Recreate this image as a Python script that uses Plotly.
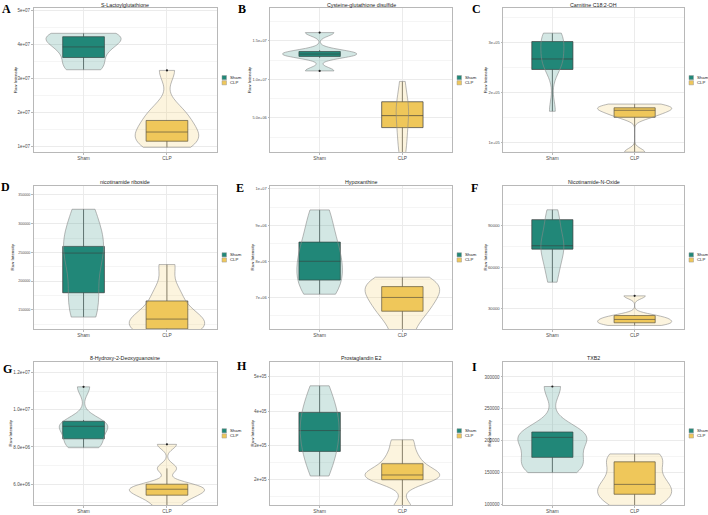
import numpy as np
import plotly.graph_objects as go

GROUPS = ["Sham", "CLP"]
TITLES = ["S-Lactoylglutathione", "Cysteine-glutathione disulfide", "Carnitine C18:2-OH",
          "nicotinamide riboside", "Hypoxanthine", "Nicotinamide-N-Oxide",
          "8-Hydroxy-2-Deoxyguanosine", "Prostaglandin E2", "TXB2"]
LETTERS = ["A", "B", "C", "D", "E", "F", "G", "H", "I"]

# ---- samples (raw intensity) ----
A_SHAM = [3.25e7, 3.40e7, 3.70e7, 3.92e7, 4.10e7, 4.20e7, 4.28e7, 4.32e7]
A_CLP = [0.97e7, 1.10e7, 1.25e7, 1.40e7, 1.60e7, 1.85e7, 2.10e7, 3.23e7]
B_SHAM = [1.11e7, 1.30e7, 1.33e7, 1.36e7, 1.607e7]
B_CLP = [0.3e6, 2.2e6, 3.75e6, 5.3e6, 6.5e6, 7.1e6, 9.74e6]
C_SHAM = [1.62e5, 2.46e5, 2.60e5, 2.70e5, 2.85e5, 3.02e5, 3.12e5, 3.19e5]
C_CLP = [0.80e5, 1.50e5, 1.58e5, 1.64e5, 1.68e5, 1.72e5, 1.765e5]
D_SHAM = [1.375e5, 1.60e5, 1.80e5, 2.45e5, 2.50e5, 2.60e5, 2.95e5, 3.25e5]
D_CLP = [1.05e5, 1.15e5, 1.22e5, 1.30e5, 1.34e5, 1.42e5, 1.65e5, 1.85e5, 2.288e5]
E_SHAM = [7.09e6, 7.30e6, 7.48e6, 7.80e6, 8.00e6, 8.30e6, 8.53e6, 9.00e6, 9.42e6]
E_CLP = [5.90e6, 6.40e6, 6.62e6, 6.85e6, 7.00e6, 7.20e6, 7.30e6, 7.45e6, 7.56e6]
F_SHAM = [4.92e4, 5.9e4, 6.6e4, 7.29e4, 7.53e4, 7.8e4, 8.6e4, 9.4e4, 1.011e5]
F_CLP = [1.82e4, 1.95e4, 2.05e4, 2.25e4, 2.35e4, 2.55e4, 3.94e4]
G_SHAM = [7.96e6, 8.15e6, 8.44e6, 8.90e6, 9.11e6, 9.25e6, 9.38e6, 11.23e6]
G_CLP = [4.80e6, 5.20e6, 5.41e6, 5.60e6, 5.73e6, 5.85e6, 6.00e6, 6.85e6, 8.14e6]
H_SHAM = [2.10e5, 2.60e5, 2.82e5, 3.20e5, 3.43e5, 3.70e5, 3.96e5, 4.30e5, 4.74e5]
H_CLP = [1.15e5, 1.99e5, 2.05e5, 2.13e5, 2.20e5, 2.46e5, 2.75e5, 3.16e5]
I_SHAM = [1.495e5, 1.56e5, 1.68e5, 1.735e5, 2.00e5, 2.05e5, 2.10e5, 2.134e5, 2.85e5]
I_CLP = [0.98e5, 1.08e5, 1.155e5, 1.25e5, 1.31e5, 1.45e5, 1.665e5, 1.75e5, 1.789e5]

# ---- box statistics: [lower whisker, q1, median, q3, upper whisker] ----
A_SHAM_BOX = [3.25e7, 3.61e7, 3.92e7, 4.22e7, 4.32e7]
A_CLP_BOX = [0.97e7, 1.15e7, 1.42e7, 1.76e7, 1.76e7]
B_SHAM_BOX = [1.28e7, 1.298e7, 1.329e7, 1.362e7, 1.38e7]
B_CLP_BOX = [0.3e6, 3.75e6, 5.3e6, 7.1e6, 9.74e6]
C_SHAM_BOX = [1.62e5, 2.46e5, 2.67e5, 3.02e5, 3.19e5]
C_CLP_BOX = [0.80e5, 1.50e5, 1.64e5, 1.69e5, 1.765e5]
D_SHAM_BOX = [1.375e5, 1.798e5, 2.488e5, 2.604e5, 3.252e5]
D_CLP_BOX = [1.05e5, 1.17e5, 1.34e5, 1.655e5, 2.288e5]
E_SHAM_BOX = [7.09e6, 7.48e6, 8.00e6, 8.53e6, 9.42e6]
E_CLP_BOX = [5.90e6, 6.62e6, 7.00e6, 7.30e6, 7.56e6]
F_SHAM_BOX = [4.92e4, 7.29e4, 7.53e4, 9.4e4, 1.011e5]
F_CLP_BOX = [1.82e4, 2.01e4, 2.25e4, 2.53e4, 2.55e4]
G_SHAM_BOX = [7.96e6, 8.44e6, 9.11e6, 9.38e6, 9.45e6]
G_CLP_BOX = [4.80e6, 5.41e6, 5.73e6, 6.00e6, 6.85e6]
H_SHAM_BOX = [2.10e5, 2.82e5, 3.43e5, 3.96e5, 4.74e5]
H_CLP_BOX = [1.15e5, 1.99e5, 2.13e5, 2.46e5, 3.16e5]
I_SHAM_BOX = [1.495e5, 1.735e5, 2.05e5, 2.134e5, 2.134e5]
I_CLP_BOX = [0.98e5, 1.155e5, 1.31e5, 1.665e5, 1.789e5]

# ---- outliers ----
A_CLP_OUT = [3.23e7]
B_SHAM_OUT = [1.11e7, 1.607e7]
F_CLP_OUT = [3.94e4]
G_SHAM_OUT = [11.23e6]
G_CLP_OUT = [8.14e6]
I_SHAM_OUT = [2.85e5]

# ---- ticks ----
A_TICKS = [1e7, 2e7, 3e7, 4e7, 5e7]
A_TICKTEXT = ["1e+07", "2e+07", "3e+07", "4e+07", "5e+07"]
B_TICKS = [5e6, 1e7, 1.5e7]
B_TICKTEXT = ["5.0e+06", "1.0e+07", "1.5e+07"]
C_TICKS = [1e5, 2e5, 3e5]
C_TICKTEXT = ["1e+05", "2e+05", "3e+05"]
D_TICKS = [150000, 200000, 250000, 300000, 350000]
D_TICKTEXT = ["150000", "200000", "250000", "300000", "350000"]
E_TICKS = [7e6, 8e6, 9e6, 1e7]
E_TICKTEXT = ["7e+06", "8e+06", "9e+06", "1e+07"]
F_TICKS = [30000, 60000, 90000]
F_TICKTEXT = ["30000", "60000", "90000"]
G_TICKS = [6e6, 8e6, 1e7, 1.2e7]
G_TICKTEXT = ["6.0e+06", "8.0e+06", "1.0e+07", "1.2e+07"]
H_TICKS = [2e5, 3e5, 4e5, 5e5]
H_TICKTEXT = ["2e+05", "3e+05", "4e+05", "5e+05"]
I_TICKS = [100000, 150000, 200000, 250000, 300000]
I_TICKTEXT = ["100000", "150000", "200000", "250000", "300000"]

SAMPLES = [(A_SHAM, A_CLP), (B_SHAM, B_CLP), (C_SHAM, C_CLP), (D_SHAM, D_CLP), (E_SHAM, E_CLP),
           (F_SHAM, F_CLP), (G_SHAM, G_CLP), (H_SHAM, H_CLP), (I_SHAM, I_CLP)]
BOXES = [(A_SHAM_BOX, A_CLP_BOX), (B_SHAM_BOX, B_CLP_BOX), (C_SHAM_BOX, C_CLP_BOX),
         (D_SHAM_BOX, D_CLP_BOX), (E_SHAM_BOX, E_CLP_BOX), (F_SHAM_BOX, F_CLP_BOX),
         (G_SHAM_BOX, G_CLP_BOX), (H_SHAM_BOX, H_CLP_BOX), (I_SHAM_BOX, I_CLP_BOX)]
OUTLIERS = [([], A_CLP_OUT), (B_SHAM_OUT, []), ([], []), ([], []), ([], []),
            ([], F_CLP_OUT), (G_SHAM_OUT, G_CLP_OUT), ([], []), (I_SHAM_OUT, [])]
TICKS = [(A_TICKS, A_TICKTEXT), (B_TICKS, B_TICKTEXT), (C_TICKS, C_TICKTEXT),
         (D_TICKS, D_TICKTEXT), (E_TICKS, E_TICKTEXT), (F_TICKS, F_TICKTEXT),
         (G_TICKS, G_TICKTEXT), (H_TICKS, H_TICKTEXT), (I_TICKS, I_TICKTEXT)]

# ---- layout / style ----
YRANGES = [[0.83e7, 5.05e7], [0.57e6, 1.92e7], [0.80e5, 3.685e5],
           [1.166e5, 3.656e5], [6.126e6, 1.0083e7], [1.56e4, 1.182e5],
           [4.88e6, 1.257e7], [1.25e5, 5.44e5], [0.985e5, 3.237e5]]
VWIDTHS = [(0.9, 0.76), (0.9, 0.15), (0.28, 0.9), (0.48, 0.9), (0.55, 0.9),
           (0.28, 0.9), (0.58, 0.9), (0.47, 0.9), (0.84, 0.9)]
VBW = [(None, None), (0.045e7, None), (None, None), (None, None), (None, None),
       (None, None), (None, None), (None, None), (None, None)]
TICKFONT = [4.5, 3.9, 4.0, 3.6, 4.0, 4.2, 4.6, 4.5, 4.5]
YTITLE_X = [15, 249, 485, 12, 252, 485, 10, 252, 489]
LETTER_POS = [(6, 8), (242, 8), (476, 8), (5, 187), (240, 188), (475, 188),
              (7, 370), (242, 367), (474, 368)]

W, H = 708, 515
COLS = [(33.5, 217), (270, 452), (503, 684)]
ROWS = [(7.5, 152), (186, 330), (363, 507)]

BOX_COL = ["#218878", "#EFC75A"]
VIO_FILL = ["rgba(33,136,120,0.2)", "rgba(239,199,90,0.2)"]
GRID = "#EBEBEB"
MINOR = "#F5F5F5"
BORDER = "#B8B8B8"
TXT = "#4D4D4D"
SANS = "Liberation Sans, Arial, sans-serif"


def nrd0(v):
    v = np.asarray(v, float)
    sd = v.std(ddof=1)
    q75, q25 = np.percentile(v, [75, 25])
    lo = min(sd, (q75 - q25) / 1.34)
    if lo <= 0:
        lo = sd
    return 0.9 * lo * len(v) ** -0.2


def px(x):
    return x / W


def py(y):
    return 1 - y / H


fig = go.Figure()
layout = dict(width=W, height=H, margin=dict(l=0, r=0, t=0, b=0),
              paper_bgcolor="white", plot_bgcolor="white",
              boxmode="overlay", violinmode="overlay", showlegend=False)
annotations = []
shapes = []

for k in range(9):
    r, c = divmod(k, 3)
    x0, x1 = COLS[c]
    t0, b0 = ROWS[r]
    xn = "x" if k == 0 else f"x{k+1}"
    yb = "y" if k == 0 else f"y{k+1}"
    yo = f"y{k+10}"
    ticks, ticktext = TICKS[k]
    step = ticks[1] - ticks[0]
    mids = [ticks[0] - step / 2] + [t + step / 2 for t in ticks]

    layout["xaxis" if k == 0 else f"xaxis{k+1}"] = dict(
        domain=[px(x0), px(x1)], anchor=yb, type="category",
        categoryorder="array", categoryarray=GROUPS, range=[-0.6, 1.6],
        showgrid=True, gridcolor=GRID, gridwidth=0.7,
        showline=True, mirror=True, linecolor=BORDER, linewidth=1,
        ticks="outside", ticklen=1.5, tickcolor=BORDER, tickwidth=0.7,
        tickfont=dict(family=SANS, size=4.8, color=TXT), zeroline=False, fixedrange=True)
    layout["yaxis" if k == 0 else f"yaxis{k+1}"] = dict(
        domain=[py(b0), py(t0)], anchor=xn, range=YRANGES[k],
        tickmode="array", tickvals=ticks, ticktext=ticktext,
        showgrid=True, gridcolor=GRID, gridwidth=0.7,
        minor=dict(tickmode="array", tickvals=mids, showgrid=True, gridcolor=MINOR,
                   gridwidth=0.5, ticks=""),
        showline=True, mirror=True, linecolor=BORDER, linewidth=1,
        ticks="outside", ticklen=1.5, tickcolor=BORDER, tickwidth=0.7,
        tickfont=dict(family=SANS, size=TICKFONT[k], color=TXT), zeroline=False,
        fixedrange=True)
    layout[f"yaxis{k+10}"] = dict(overlaying=yb, anchor=xn, range=YRANGES[k],
                                  visible=False, showgrid=False, zeroline=False, fixedrange=True)

    for g in range(2):
        grp = GROUPS[g]
        lo, q1, med, q3, hi = BOXES[k][g]
        fig.add_trace(go.Box(
            x=[grp], q1=[q1], median=[med], q3=[q3], lowerfence=[lo], upperfence=[hi],
            width=0.5, fillcolor=BOX_COL[g], line=dict(color="#3A3A3A", width=0.7),
            whiskerwidth=0, boxpoints=False, xaxis=xn, yaxis=yb, hoverinfo="skip"))
        s = SAMPLES[k][g]
        bw = VBW[k][g] if VBW[k][g] is not None else nrd0(s)
        fig.add_trace(go.Violin(
            x=[grp] * len(s), y=s, width=VWIDTHS[k][g], scalemode="width",
            spanmode="hard", bandwidth=bw, points=False,
            fillcolor=VIO_FILL[g], line=dict(color="#8A8A8A", width=0.6),
            box_visible=False, meanline_visible=False, xaxis=xn, yaxis=yo,
            hoverinfo="skip"))
        out = OUTLIERS[k][g]
        if out:
            fig.add_trace(go.Scatter(x=[grp] * len(out), y=out, mode="markers",
                                     marker=dict(size=2.2, color="#222222"),
                                     xaxis=xn, yaxis=yo, hoverinfo="skip"))

    # panel title
    annotations.append(dict(x=px((x0 + x1) / 2), y=py(t0 - 3.6), xref="paper", yref="paper",
                            text=TITLES[k], showarrow=False, xanchor="center", yanchor="middle",
                            font=dict(family=SANS, size=5.3, color="#1A1A1A")))
    # y title
    annotations.append(dict(x=px(YTITLE_X[k]), y=py((t0 + b0) / 2), xref="paper", yref="paper",
                            text="Raw Intensity", showarrow=False, textangle=-90,
                            xanchor="center", yanchor="middle",
                            font=dict(family=SANS, size=4.4, color="#1A1A1A")))
    # letter
    lx, ly = LETTER_POS[k]
    annotations.append(dict(x=px(lx), y=py(ly), xref="paper", yref="paper",
                            text="<b>%s</b>" % LETTERS[k], showarrow=False,
                            xanchor="center", yanchor="middle",
                            font=dict(family="Liberation Serif, Times New Roman, serif",
                                      size=12, color="black")))
    # legend
    cy = (t0 + b0) / 2
    for g in range(2):
        sy = cy - 4.8 + g * 5.2
        shapes.append(dict(type="rect", xref="paper", yref="paper",
                           x0=px(x1 + 5), x1=px(x1 + 9.5), y0=py(sy), y1=py(sy + 4.2),
                           fillcolor=BOX_COL[g], line=dict(color="#9A9A9A", width=0.5)))
        annotations.append(dict(x=px(x1 + 10.5), y=py(sy + 2.1), xref="paper", yref="paper",
                                text=GROUPS[g], showarrow=False, xanchor="left",
                                yanchor="middle",
                                font=dict(family=SANS, size=4.3, color="#1A1A1A")))

layout["annotations"] = annotations
layout["shapes"] = shapes
fig.update_layout(**layout)
fig.write_html("out.html")
